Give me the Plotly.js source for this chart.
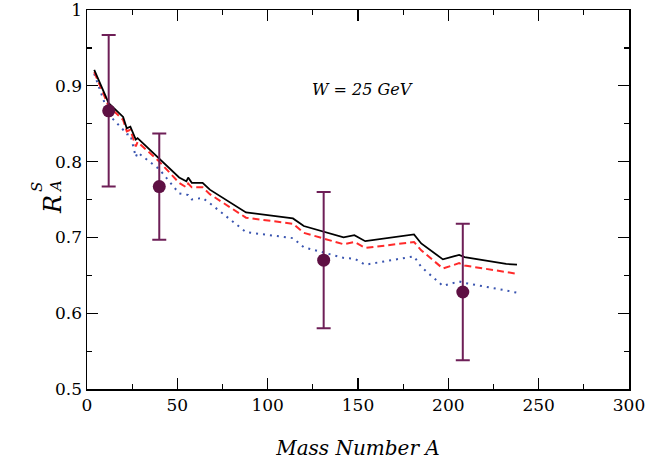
<!DOCTYPE html>
<html>
<head>
<meta charset="utf-8">
<script src="https://cdn.plot.ly/plotly-3.0.1.min.js"></script>
<style>html,body{margin:0;padding:0;background:#fff;}#chart{width:646px;height:463px;}</style>
</head>
<body>
<div id="chart"></div>
<script>
// Mass numbers used for the curves
var massA = [4, 12, 20, 22, 24, 27, 28, 40, 51, 55, 56, 58, 64, 68, 88, 114, 120, 142, 148, 154, 181, 185, 197, 206, 209, 232, 238];
// Solid black curve
var curveSolid = [0.921, 0.877, 0.859, 0.844, 0.846, 0.829, 0.831, 0.804, 0.779, 0.774, 0.779, 0.772, 0.772, 0.763, 0.733, 0.725, 0.715, 0.700, 0.703, 0.695, 0.704, 0.692, 0.671, 0.677, 0.674, 0.665, 0.664];
// Dashed red curve
var curveDashed = [0.918, 0.873, 0.855, 0.840, 0.842, 0.820, 0.826, 0.800, 0.772, 0.766, 0.771, 0.766, 0.766, 0.757, 0.726, 0.718, 0.706, 0.691, 0.694, 0.686, 0.694, 0.683, 0.659, 0.666, 0.663, 0.654, 0.652];
// Dotted blue curve
var curveDotted = [0.916, 0.862, 0.842, 0.836, 0.836, 0.806, 0.812, 0.790, 0.758, 0.756, 0.756, 0.750, 0.752, 0.745, 0.707, 0.699, 0.687, 0.673, 0.672, 0.664, 0.675, 0.661, 0.636, 0.642, 0.640, 0.630, 0.627];
// Data points with error bars
var dataA = [12, 40, 131, 208];
var dataR = [0.867, 0.767, 0.670, 0.628];
var dataErr = [0.100, 0.070, 0.090, 0.090];

var xTickVals = [0, 50, 100, 150, 200, 250, 300];
var yTickVals = [0.5, 0.6, 0.7, 0.8, 0.9, 1];
var yTickText = ['0.5', '0.6', '0.7', '0.8', '0.9', '1'];

var serif = 'DejaVu Serif';

var traces = [
  {x: massA, y: curveDotted, mode: 'lines', line: {color: '#3a55b0', width: 2, dash: '2px,5px'}},
  {x: massA, y: curveDashed, mode: 'lines', line: {color: '#ff2a2a', width: 2, dash: '7px,4px'}},
  {x: massA, y: curveSolid, mode: 'lines', line: {color: '#000000', width: 1.8}},
  {x: dataA, y: dataR, mode: 'markers', marker: {color: '#5e1043', size: 13},
   error_y: {type: 'data', array: dataErr, visible: true, color: '#6e1f57', thickness: 2, width: 7}}
];

function px2x(p){ return (p - 87) / 542; }
function px2y(p){ return (389 - p) / 379; }

var layout = {
  width: 646, height: 463,
  margin: {l: 87, r: 17, t: 10, b: 74},
  paper_bgcolor: '#fff', plot_bgcolor: '#fff',
  showlegend: false,
  font: {family: serif, color: '#000'},
  xaxis: {
    range: [0, 300], tickvals: xTickVals, ticks: 'inside', ticklen: 11, tickwidth: 1.2, tickcolor: '#000',
    showline: true, linecolor: '#000', linewidth: 1.5, mirror: 'ticks', showgrid: false, zeroline: false,
    ticklabeloverflow: 'allow',
    tickfont: {family: serif, size: 17, color: '#000'},
    minor: {dtick: 25, ticks: 'inside', ticklen: 5, tickwidth: 1.2, tickcolor: '#000', showgrid: false},
    title: {text: '<i>Mass Number A</i>', font: {family: serif, size: 20, color: '#000'}, standoff: 27}
  },
  yaxis: {
    range: [0.5, 1], tickvals: yTickVals, ticktext: yTickText, ticks: 'inside', ticklen: 11, tickwidth: 1.2, tickcolor: '#000',
    showline: true, linecolor: '#000', linewidth: 1.5, mirror: 'ticks', showgrid: false, zeroline: false,
    ticklabeloverflow: 'allow',
    tickfont: {family: serif, size: 17, color: '#000'},
    minor: {dtick: 0.05, ticks: 'inside', ticklen: 5, tickwidth: 1.2, tickcolor: '#000', showgrid: false}
  },
  annotations: [
    {xref: 'paper', yref: 'paper', x: px2x(362), y: px2y(78), text: '<i>W = 25 GeV</i>', showarrow: false,
     font: {family: serif, size: 16, color: '#000'}},
    {xref: 'paper', yref: 'paper', x: px2x(37), y: px2y(205), text: '<i>R</i>', showarrow: false, textangle: -90,
     font: {family: serif, size: 24, color: '#000'}},
    {xref: 'paper', yref: 'paper', x: px2x(26), y: px2y(187), text: '<i>S</i>', showarrow: false, textangle: -90,
     font: {family: serif, size: 15, color: '#000'}},
    {xref: 'paper', yref: 'paper', x: px2x(45), y: px2y(187), text: '<i>A</i>', showarrow: false, textangle: -90,
     font: {family: serif, size: 15, color: '#000'}}
  ]
};

Plotly.newPlot('chart', traces, layout, {displayModeBar: false, staticPlot: true});
</script>
</body>
</html>
